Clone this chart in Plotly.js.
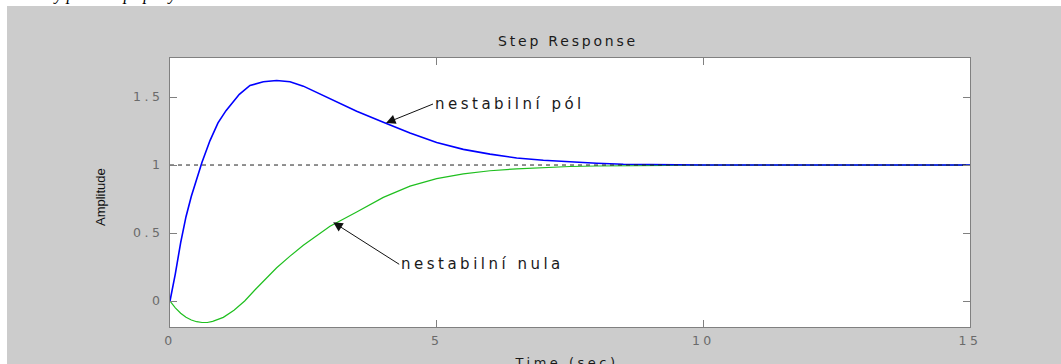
<!DOCTYPE html>
<html>
<head>
<meta charset="utf-8">
<script src="https://cdn.plot.ly/plotly-3.0.1.min.js"></script>
<style>
  html, body { margin: 0; padding: 0; background: #ffffff; }
  #chart { width: 1061px; height: 364px; }
  .xtick text, .ytick text { letter-spacing: 3.5px; }
  .gtitle { letter-spacing: 2.8px; }
  .annotation[data-index="0"] text, .annotation[data-index="1"] text { letter-spacing: 3.5px; }
  .annotation[data-index="2"] text { letter-spacing: 3.5px; }
</style>
</head>
<body>
<div id="chart"></div>
<script>
// Time grid and step response of the system with an unstable pole (blue)
const tPole = [0, 0.05, 0.1, 0.2, 0.3, 0.4, 0.5, 0.6, 0.75, 0.9, 1.05, 1.3, 1.5, 1.75, 2.0, 2.25, 2.5, 2.75, 3.0, 3.5, 4.0, 4.5, 5.0, 5.5, 6.0, 6.5, 7.0, 7.5, 8.0, 8.5, 9.0, 9.5, 10, 11, 12, 13, 14, 15];
const yPole = [0, 0.1, 0.2, 0.43, 0.62, 0.77, 0.9, 1.02, 1.18, 1.31, 1.40, 1.52, 1.585, 1.612, 1.622, 1.612, 1.58, 1.535, 1.485, 1.395, 1.315, 1.235, 1.165, 1.115, 1.08, 1.052, 1.035, 1.022, 1.013, 1.006, 1.003, 1.001, 1.0, 1.0, 1.0, 1.0, 1.0, 1.0];

// Time grid and step response of the system with an unstable zero (green)
const tZero = [0, 0.1, 0.2, 0.3, 0.4, 0.5, 0.6, 0.7, 0.8, 0.9, 1.0, 1.2, 1.4, 1.6, 1.8, 2.0, 2.25, 2.5, 2.75, 3.0, 3.5, 4.0, 4.5, 5.0, 5.5, 6.0, 6.5, 7.0, 7.5, 8.0, 8.5, 9.0, 9.5, 10, 11, 12, 13, 14, 15];
const yZero = [0, -0.05, -0.09, -0.12, -0.14, -0.152, -0.158, -0.158, -0.15, -0.135, -0.12, -0.068, 0.0, 0.085, 0.165, 0.245, 0.33, 0.41, 0.48, 0.55, 0.655, 0.762, 0.845, 0.9, 0.935, 0.958, 0.972, 0.982, 0.989, 0.993, 0.996, 0.998, 1.0, 1.0, 1.0, 1.0, 1.0, 1.0, 1.0];

// Steady-state reference line
const tFinal = [0, 15];
const yFinal = [1, 1];

// Axis ticks
const xTicks = [0, 5, 10, 15];
const yTicks = [0, 0.5, 1, 1.5];
const yTickText = ['0', '0.5', '1', '1.5'];

// Labels
const titleText = 'Step Response';
const xTitle = 'Time (sec)';
const yTitle = 'Amplitude';
const poleLabel = 'nestabilní pól';
const zeroLabel = 'nestabilní nula';
const poleArrowAt = [4.05, 1.309];
const zeroArrowAt = [3.06, 0.579];
const captionText = 'odezvy pro oba případy.';

const traces = [
  { x: tZero, y: yZero, type: 'scatter', mode: 'lines', line: { color: '#1fbf1f', width: 1.2 }, hoverinfo: 'skip' },
  { x: tPole, y: yPole, type: 'scatter', mode: 'lines', line: { color: '#0000ff', width: 1.6 }, hoverinfo: 'skip' },
  { x: tFinal, y: yFinal, type: 'scatter', mode: 'lines', line: { color: '#222222', width: 1, dash: '4px,4px' }, hoverinfo: 'skip' }
];

const sans = 'DejaVu Sans, Arial, sans-serif';

const layout = {
  width: 1061,
  height: 364,
  margin: { l: 170, r: 91, t: 58, b: 37, pad: 0 },
  paper_bgcolor: '#cccccc',
  plot_bgcolor: '#ffffff',
  showlegend: false,
  title: {
    text: titleText,
    font: { family: sans, size: 14, color: '#1a1a1a' },
    xref: 'container', yref: 'container',
    x: 568 / 1061, y: 1 - 41.5 / 364,
    xanchor: 'center', yanchor: 'middle'
  },
  xaxis: {
    range: [0, 15],
    tickvals: xTicks,
    ticktext: xTicks.map(String),
    ticks: 'inside', ticklen: 7, tickwidth: 1, tickcolor: '#808080',
    showline: true, linecolor: '#808080', linewidth: 1, mirror: 'ticks',
    showgrid: false, zeroline: false,
    tickfont: { family: sans, size: 12.5, color: '#6a6a6a' },
    ticklabelstandoff: 2,
    fixedrange: true
  },
  yaxis: {
    range: [-0.191, 1.787],
    tickvals: yTicks,
    ticktext: yTickText,
    ticks: 'inside', ticklen: 7, tickwidth: 1, tickcolor: '#808080',
    showline: true, linecolor: '#808080', linewidth: 1, mirror: 'ticks',
    showgrid: false, zeroline: false,
    tickfont: { family: sans, size: 12.5, color: '#6a6a6a' },
    ticklabelstandoff: 3,
    fixedrange: true
  },
  shapes: [
    { type: 'rect', xref: 'paper', yref: 'paper', x0: -0.3, x1: 1.2, y0: (327 - 6) / 269, y1: 1.4, fillcolor: '#ffffff', line: { width: 0 }, layer: 'below' },
    { type: 'rect', xref: 'paper', yref: 'paper', x0: -0.3, x1: (7 - 170) / 800, y0: -0.3, y1: 1.4, fillcolor: '#ffffff', line: { width: 0 }, layer: 'below' }
  ],
  annotations: [
    {
      x: poleArrowAt[0], y: poleArrowAt[1], xref: 'x', yref: 'y',
      text: poleLabel, showarrow: true, ax: 47, ay: -19,
      xanchor: 'left', yanchor: 'middle', align: 'left',
      arrowhead: 2, arrowsize: 1.9, arrowwidth: 1, arrowcolor: '#111111',
      font: { family: sans, size: 15, color: '#1a1a1a' }
    },
    {
      x: zeroArrowAt[0], y: zeroArrowAt[1], xref: 'x', yref: 'y',
      text: zeroLabel, showarrow: true, ax: 66, ay: 42,
      xanchor: 'left', yanchor: 'middle', align: 'left',
      arrowhead: 2, arrowsize: 1.9, arrowwidth: 1, arrowcolor: '#111111',
      font: { family: sans, size: 15, color: '#1a1a1a' }
    },
    {
      x: (566 - 170) / 800, y: (327 - 362.5) / 269, xref: 'paper', yref: 'paper',
      text: xTitle, showarrow: false, xanchor: 'center', yanchor: 'middle',
      font: { family: sans, size: 13, color: '#1a1a1a' }
    },
    {
      x: (100 - 170) / 800, y: (327 - 197) / 269, xref: 'paper', yref: 'paper',
      text: yTitle, showarrow: false, textangle: -90, xanchor: 'center', yanchor: 'middle',
      font: { family: 'Arial, Liberation Sans, sans-serif', size: 13, color: '#111111' }
    },
    {
      x: (14 - 170) / 800, y: (327 - 6.5) / 269, xref: 'paper', yref: 'paper',
      text: captionText, showarrow: false, xanchor: 'left', yanchor: 'bottom',
      font: { family: 'Liberation Serif, Times New Roman, serif', size: 17, color: '#000000', style: 'italic' }
    }
  ]
};

Plotly.newPlot('chart', traces, layout, { staticPlot: true, displayModeBar: false });
</script>
</body>
</html>
